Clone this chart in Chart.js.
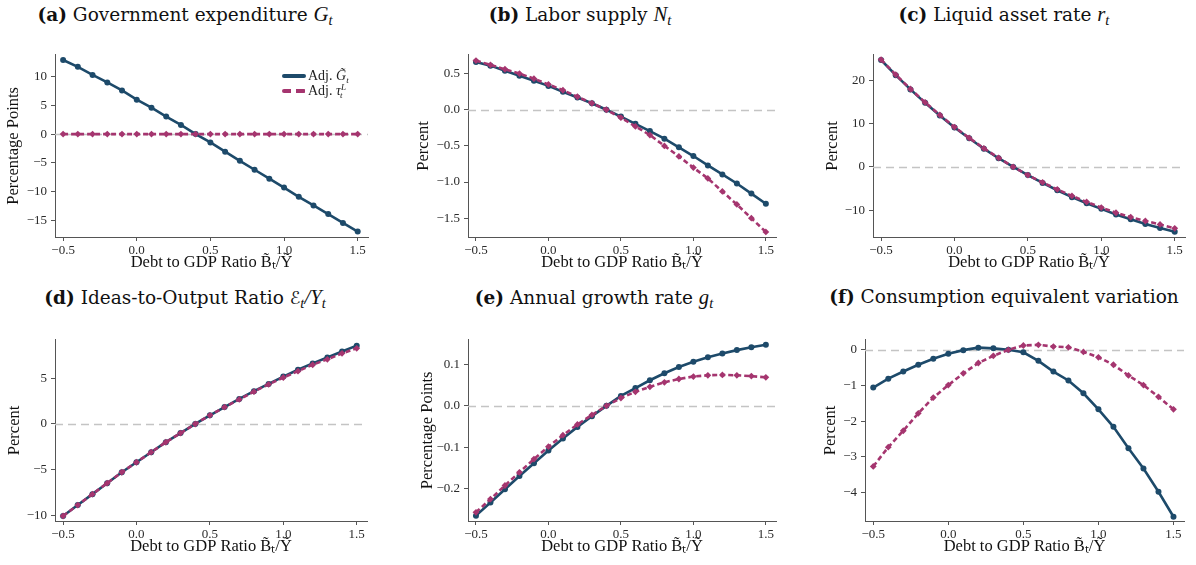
<!DOCTYPE html>
<html>
<head>
<meta charset="utf-8">
<script src="https://cdn.jsdelivr.net/npm/chart.js@4.4.1/dist/chart.umd.min.js"></script>
<style>
  body { margin:0; width:1196px; height:565px; background:#fff; position:relative; overflow:hidden; }
  .panel { position:absolute; }
  .title { position:absolute; width:600px; text-align:center; font-family:'DejaVu Serif', serif; font-size:18.5px; line-height:22px; color:#111; white-space:nowrap; }
  .title b { font-weight:bold; }
  .m { font-family:'Liberation Serif', serif; font-style:italic; font-size:1.12em; }
  .m sub { font-size:0.7em; vertical-align:-0.3em; }
  .scr { font-family:'DejaVu Sans', sans-serif; font-style:normal; font-size:0.85em; }
  .legend { position:absolute; font-family:'Liberation Serif', serif; font-size:14px; color:#222; }
  .legend .row { position:absolute; left:0; white-space:nowrap; height:16px; line-height:16px; }
  .legend .swatch { position:absolute; left:0; top:6px; width:24px; height:4px; border-radius:2px; }
  .legend .lbl { position:absolute; left:26px; top:0; }
  .legend sub, .legend sup { font-size:9px; font-style:italic; line-height:0; }
  .legend sub { vertical-align:-3px; }
  .legend sup { vertical-align:5px; }
</style>
</head>
<body>
<script>
/* ── données ── */
const debtRatio = [-0.5,-0.4,-0.3,-0.2,-0.1,0.0,0.1,0.2,0.3,0.4,0.5,0.6,0.7,0.8,0.9,1.0,1.1,1.2,1.3,1.4,1.5];
const xTicks = [-0.5, 0, 0.5, 1, 1.5];

const govG   = [12.9,11.7,10.3,9.0,7.6,6.0,4.6,3.05,1.6,0,-1.45,-3.05,-4.65,-6.2,-7.75,-9.3,-10.9,-12.4,-13.9,-15.45,-16.95];
const govTau = [0,0,0,0,0,0,0,0,0,0,0,0,0,0,0,0,0,0,0,0,0];

const laborG   = [0.66,0.61,0.54,0.47,0.40,0.33,0.25,0.17,0.09,0,-0.095,-0.195,-0.295,-0.40,-0.52,-0.64,-0.77,-0.895,-1.02,-1.16,-1.30];
const laborTau = [0.68,0.62,0.56,0.50,0.43,0.35,0.27,0.18,0.09,0,-0.11,-0.23,-0.35,-0.50,-0.645,-0.80,-0.95,-1.13,-1.31,-1.50,-1.69];

const rateG   = [24.7,21.2,17.9,14.8,11.9,9.1,6.6,4.2,2.0,0,-1.9,-3.7,-5.4,-7.0,-8.4,-9.7,-11.0,-12.1,-13.2,-14.1,-15.0];
const rateTau = [24.8,21.3,18.0,14.9,12.0,9.2,6.7,4.3,2.1,0,-1.9,-3.6,-5.2,-6.7,-8.1,-9.4,-10.6,-11.6,-12.5,-13.3,-14.2];

const ideasG   = [-10.1,-8.9,-7.7,-6.5,-5.3,-4.2,-3.1,-2.0,-1.0,0,0.95,1.85,2.75,3.6,4.4,5.2,5.95,6.65,7.3,7.95,8.6];
const ideasTau = [-10.1,-8.9,-7.7,-6.5,-5.3,-4.2,-3.1,-2.0,-1.0,0,0.95,1.85,2.7,3.55,4.35,5.1,5.8,6.5,7.1,7.75,8.3];

const growthG   = [-0.266,-0.234,-0.202,-0.170,-0.139,-0.108,-0.079,-0.051,-0.025,0,0.024,0.043,0.062,0.079,0.094,0.107,0.118,0.127,0.135,0.142,0.148];
const growthTau = [-0.258,-0.226,-0.193,-0.161,-0.129,-0.099,-0.071,-0.045,-0.022,0,0.019,0.034,0.046,0.057,0.065,0.071,0.074,0.075,0.074,0.072,0.069];

const cevG   = [-1.06,-0.81,-0.61,-0.42,-0.25,-0.11,-0.01,0.06,0.04,0,-0.07,-0.31,-0.61,-0.86,-1.22,-1.67,-2.16,-2.76,-3.33,-3.98,-4.68];
const cevTau = [-3.27,-2.73,-2.27,-1.78,-1.34,-0.99,-0.66,-0.37,-0.17,0,0.12,0.14,0.09,0.07,-0.06,-0.21,-0.42,-0.72,-0.99,-1.32,-1.67];

const yTicksA = [-15,-10,-5,0,5,10];
const yTicksB = [-1.5,-1.0,-0.5,0,0.5];
const yTicksC = [-10,0,10,20];
const yTicksD = [-10,-5,0,5];
const yTicksE = [-0.2,-0.1,0,0.1];
const yTicksF = [-4,-3,-2,-1,0];

const COLORS = { g:'#1d4a6a', tau:'#a5356f', zero:'#c4c4c4', axis:'#555', text:'#2a2a2a' };
const AXIS_FONT = "'Liberation Serif', serif";
const X_TITLE = 'Debt to GDP Ratio B\u0303\u209C/Y\u0303';

/* ── mise en page des six panneaux ── */
const PANELS = [
  { title:'<b>(a)</b> Government expenditure <span class="m">G<sub>t</sub></span>', cx:185, ty:3,
    g:govG, tau:govTau, yMin:-17.9, yMax:13.8, yTicks:yTicksA, dec:0, yLabel:'Percentage Points',
    axisX:55, right:368, top:53, bottom:237, yW:55, legend:true },
  { title:'<b>(b)</b> Labor supply <span class="m">N<sub>t</sub></span>', cx:580, ty:3,
    g:laborG, tau:laborTau, yMin:-1.76, yMax:0.76, yTicks:yTicksB, dec:1, yLabel:'Percent',
    axisX:468, right:776, top:53, bottom:237, yW:58 },
  { title:'<b>(c)</b> Liquid asset rate <span class="m">r<sub>t</sub></span>', cx:1004, ty:3,
    g:rateG, tau:rateTau, yMin:-16.2, yMax:25.9, yTicks:yTicksC, dec:0, yLabel:'Percent',
    axisX:873, right:1185, top:53, bottom:237, yW:54 },
  { title:'<b>(d)</b> Ideas-to-Output Ratio <span class="m"><span class="scr">\u2130</span><sub>t</sub>/Y<sub>t</sub></span>', cx:185, ty:286,
    g:ideasG, tau:ideasTau, yMin:-10.65, yMax:9.24, yTicks:yTicksD, dec:0, yLabel:'Percent',
    axisX:55, right:367, top:338, bottom:521, yW:54 },
  { title:'<b>(e)</b> Annual growth rate <span class="m">g<sub>t</sub></span>', cx:594, ty:286,
    g:growthG, tau:growthTau, yMin:-0.279, yMax:0.16, yTicks:yTicksE, dec:1, yLabel:'Percentage Points',
    axisX:468, right:776, top:338, bottom:521, yW:54 },
  { title:'<b>(f)</b> Consumption equivalent variation', cx:1004, ty:286,
    g:cevG, tau:cevTau, yMin:-4.8, yMax:0.28, yTicks:yTicksF, dec:0, yLabel:'Percent',
    axisX:865, right:1184, top:338, bottom:521, yW:48 },
];

const fmt = (v, dec) => {
  const s = Math.abs(v).toFixed(dec);
  return (v < -1e-9 ? '\u2212' : '') + s;
};

/* ── ligne pointillée grise à zéro ── */
const zeroLine = {
  id: 'zeroLine',
  beforeDatasetsDraw(chart) {
    const { ctx, chartArea: a, scales: { y } } = chart;
    const py = Math.round(y.getPixelForValue(0)) + 0.5;
    ctx.save();
    ctx.strokeStyle = COLORS.zero;
    ctx.lineWidth = 1.3;
    ctx.setLineDash([8, 5]);
    ctx.beginPath(); ctx.moveTo(a.left, py); ctx.lineTo(a.right, py); ctx.stroke();
    ctx.restore();
  }
};

const PAD_TOP = 10, PAD_RIGHT = 8, X_H = 36;

PANELS.forEach(p => {
  const left = p.axisX - p.yW;
  const w = p.right - left + PAD_RIGHT;
  const h = PAD_TOP + (p.bottom - p.top) + X_H;

  const wrap = document.createElement('div');
  wrap.className = 'panel';
  wrap.style.cssText = `left:${left}px;top:${p.top - PAD_TOP}px;width:${w}px;height:${h}px`;
  const cv = document.createElement('canvas');
  cv.width = w; cv.height = h;
  cv.style.width = w + 'px'; cv.style.height = h + 'px';
  wrap.appendChild(cv);
  document.body.appendChild(wrap);

  const t = document.createElement('div');
  t.className = 'title';
  t.style.left = (p.cx - 300) + 'px';
  t.style.top = p.ty + 'px';
  t.innerHTML = p.title;
  document.body.appendChild(t);

  const pts = arr => debtRatio.map((x, i) => ({ x, y: arr[i] }));

  new Chart(cv, {
    type: 'line',
    data: {
      datasets: [
        { label: 'Adj. G', data: pts(p.g), order: 2,
          borderColor: COLORS.g, backgroundColor: COLORS.g, borderWidth: 2.6,
          pointRadius: 3, pointStyle: 'circle', pointBorderWidth: 0, clip: false, tension: 0 },
        { label: 'Adj. tau', data: pts(p.tau), order: 1,
          borderColor: COLORS.tau, backgroundColor: COLORS.tau, borderWidth: 2.6, borderDash: [5, 3],
          pointRadius: 3.4, pointStyle: 'rectRot', pointBorderWidth: 0, clip: false, tension: 0 },
      ]
    },
    options: {
      responsive: false, animation: false, devicePixelRatio: 1,
      layout: { padding: { top: PAD_TOP, right: PAD_RIGHT, left: 0, bottom: 0 } },
      plugins: { legend: { display: false }, tooltip: { enabled: false } },
      scales: {
        x: {
          type: 'linear', min: -0.555, max: 1.57,
          afterBuildTicks: s => { s.ticks = xTicks.map(v => ({ value: v })); },
          afterFit: s => { s.height = X_H; },
          ticks: { callback: v => fmt(v, 1), color: COLORS.text, font: { family: AXIS_FONT, size: 13 }, padding: 2, maxRotation: 0 },
          grid: { display: true, drawOnChartArea: false, drawTicks: true, tickLength: 4, color: COLORS.axis },
          border: { display: true, color: COLORS.axis, width: 1 },
          title: { display: true, text: X_TITLE, color: '#111', font: { family: AXIS_FONT, size: 16.5 }, padding: { top: 0, bottom: 0 } }
        },
        y: {
          type: 'linear', min: p.yMin, max: p.yMax,
          afterBuildTicks: s => { s.ticks = p.yTicks.map(v => ({ value: v })); },
          afterFit: s => { s.width = p.yW; },
          ticks: { callback: v => fmt(v, p.dec), color: COLORS.text, font: { family: AXIS_FONT, size: 13 }, padding: 4 },
          grid: { display: true, drawOnChartArea: false, drawTicks: true, tickLength: 4, color: COLORS.axis },
          border: { display: true, color: COLORS.axis, width: 1 },
          title: { display: true, text: p.yLabel, color: '#111', font: { family: AXIS_FONT, size: 16.5 }, padding: { top: 4, bottom: 0 } }
        }
      }
    },
    plugins: [zeroLine]
  });

  if (p.legend) {
    const lg = document.createElement('div');
    lg.className = 'legend';
    lg.style.cssText = 'left:282px;top:68px;width:80px;height:34px';
    lg.innerHTML =
      `<div class="row" style="top:0"><span class="swatch" style="background:${COLORS.g}"></span>` +
      `<span class="lbl">Adj. <i>G\u0303</i><sub>t</sub></span></div>` +
      `<div class="row" style="top:15px"><span class="swatch" style="background:repeating-linear-gradient(90deg,${COLORS.tau} 0 9px,transparent 9px 14px)"></span>` +
      `<span class="lbl">Adj. <i>\u03C4</i><sup>L</sup><sub style="margin-left:-6px">t</sub></span></div>`;
    document.body.appendChild(lg);
  }
});
</script>
</body>
</html>
